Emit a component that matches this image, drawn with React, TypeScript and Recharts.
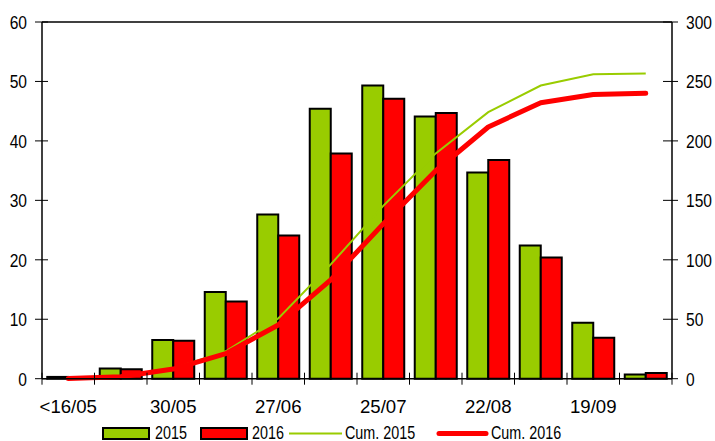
import React from 'react';
import {
  ComposedChart,
  Bar,
  Line,
  XAxis,
  YAxis,
  Legend,
  ReferenceLine,
} from 'recharts';

const categories = [
  '<16/05', '16/05', '30/05', '13/06', '27/06', '11/07',
  '25/07', '08/08', '22/08', '05/09', '19/09', '03/10',
];
const shownLabels = ['<16/05', '30/05', '27/06', '25/07', '22/08', '19/09'];

const values2015 = [0.3, 1.7, 6.5, 14.6, 27.6, 45.4, 49.3, 44.1, 34.7, 22.4, 9.4, 0.7];
const values2016 = [0.1, 1.6, 6.4, 13.0, 24.1, 37.9, 47.1, 44.7, 36.8, 20.4, 6.9, 0.95];
const cum2015 = [0.3, 2.0, 8.5, 23.1, 50.7, 96.1, 145.4, 189.5, 224.2, 246.6, 256.0, 256.7];
const cum2016 = [0.1, 1.7, 8.1, 21.1, 45.2, 83.1, 130.2, 174.9, 211.7, 232.1, 239.0, 240.0];

const leftTicks = [0, 10, 20, 30, 40, 50, 60];
const rightTicks = [0, 50, 100, 150, 200, 250, 300];

const GREEN = '#99cc00';
const RED = '#ff0000';
const FONT = "'Liberation Sans', Arial, sans-serif";
const NARROW = 0.82;

const W = 715;
const H = 441;
const LEFT_W = 42;
const RIGHT_W = 43;
const BAND = (W - LEFT_W - RIGHT_W) / categories.length;

const data = categories.map((c, i) => ({
  cat: c,
  v2015: values2015[i],
  v2016: values2016[i],
  c2015: cum2015[i],
  c2016: cum2016[i],
}));

// condensed look: regular face squeezed horizontally
const NarrowText = ({ x, y, anchor, size, children }: any) => (
  <g transform={`translate(${x},${y}) scale(${NARROW},1)`}>
    <text x={0} y={0} textAnchor={anchor} fontSize={size} fontFamily={FONT} fill="#000">
      {children}
    </text>
  </g>
);

const LeftTick = (props: any) => {
  const { x, y, payload } = props;
  return (
    <g>
      <line x1={x - 7} x2={x + 6} y1={y} y2={y} stroke="#000" strokeWidth={1} />
      <NarrowText x={x - 15} y={y + 6.8} anchor="end" size={19}>
        {payload.value}
      </NarrowText>
    </g>
  );
};

const RightTick = (props: any) => {
  const { x, y, payload } = props;
  return (
    <g>
      <line x1={x - 9} x2={x + 6} y1={y} y2={y} stroke="#000" strokeWidth={1} />
      <NarrowText x={x + 14} y={y + 6.8} anchor="start" size={19}>
        {payload.value}
      </NarrowText>
    </g>
  );
};

const BottomTick = (props: any) => {
  const { x, y, payload, index } = props;
  const left = x - BAND / 2;
  return (
    <g>
      <line x1={left} x2={left} y1={y - 6} y2={y + 6} stroke="#000" strokeWidth={1} />
      {index === categories.length - 1 && (
        <line x1={x + BAND / 2} x2={x + BAND / 2} y1={y - 6} y2={y + 6} stroke="#000" strokeWidth={1} />
      )}
      {shownLabels.includes(payload.value) && (
        <text x={x} y={y + 34} textAnchor="middle" fontSize={18.6} fontFamily={FONT} fill="#000">
          {payload.value}
        </text>
      )}
    </g>
  );
};

const LegendContent = () => (
  <svg width={W} height={16} style={{ display: 'block', overflow: 'visible' }}>
    <rect x={103} y={3} width={46} height={11} fill={GREEN} stroke="#000" strokeWidth={2} />
    <NarrowText x={155} y={14} anchor="start" size={17.5}>2015</NarrowText>
    <rect x={201} y={3} width={46} height={11} fill={RED} stroke="#000" strokeWidth={2} />
    <NarrowText x={252} y={14} anchor="start" size={17.5}>2016</NarrowText>
    <line x1={289} x2={342} y1={8.5} y2={8.5} stroke={GREEN} strokeWidth={2} />
    <NarrowText x={345} y={14} anchor="start" size={17.5}>Cum. 2015</NarrowText>
    <line x1={439} x2={486} y1={8.5} y2={8.5} stroke={RED} strokeWidth={5} strokeLinecap="round" />
    <NarrowText x={491} y={14} anchor="start" size={17.5}>Cum. 2016</NarrowText>
  </svg>
);

export default function App() {
  return (
    <div style={{ position: 'absolute', left: 0, top: 0, width: W, height: H, background: '#fff' }}>
      <ComposedChart
        width={W}
        height={H}
        data={data}
        margin={{ top: 22, right: 0, left: 0, bottom: 22.3 }}
        barCategoryGap="10%"
        barGap={0}
      >
        <XAxis
          dataKey="cat"
          height={40}
          interval={0}
          tickLine={false}
          tickSize={0}
          tickMargin={0}
          tick={<BottomTick />}
          axisLine={{ stroke: '#000', strokeWidth: 1.5 }}
        />
        <YAxis
          yAxisId="left"
          orientation="left"
          width={LEFT_W}
          domain={[0, 60]}
          ticks={leftTicks}
          interval={0}
          tickLine={false}
          tickSize={0}
          tickMargin={0}
          tick={<LeftTick />}
          axisLine={{ stroke: '#000', strokeWidth: 1.5 }}
        />
        <YAxis
          yAxisId="right"
          orientation="right"
          width={RIGHT_W}
          domain={[0, 300]}
          ticks={rightTicks}
          interval={0}
          tickLine={false}
          tickSize={0}
          tickMargin={0}
          tick={<RightTick />}
          axisLine={{ stroke: '#000', strokeWidth: 1.5 }}
        />
        <ReferenceLine yAxisId="left" y={60} stroke="#000" strokeWidth={1.5} />
        <Bar yAxisId="left" dataKey="v2015" name="2015" fill={GREEN} stroke="#000" strokeWidth={2} isAnimationActive={false} />
        <Bar yAxisId="left" dataKey="v2016" name="2016" fill={RED} stroke="#000" strokeWidth={2} isAnimationActive={false} />
        <Line
          yAxisId="right"
          type="linear"
          dataKey="c2015"
          name="Cum. 2015"
          stroke={GREEN}
          strokeWidth={2}
          dot={false}
          activeDot={false}
          isAnimationActive={false}
        />
        <Line
          yAxisId="right"
          type="linear"
          dataKey="c2016"
          name="Cum. 2016"
          stroke={RED}
          strokeWidth={5}
          strokeLinecap="round"
          strokeLinejoin="round"
          dot={false}
          activeDot={false}
          isAnimationActive={false}
        />
        <Legend
          layout="horizontal"
          verticalAlign="middle"
          align="center"
          content={<LegendContent />}
          wrapperStyle={{ position: 'absolute', top: 425, left: 0, width: W, height: 16 }}
        />
      </ComposedChart>
    </div>
  );
}
